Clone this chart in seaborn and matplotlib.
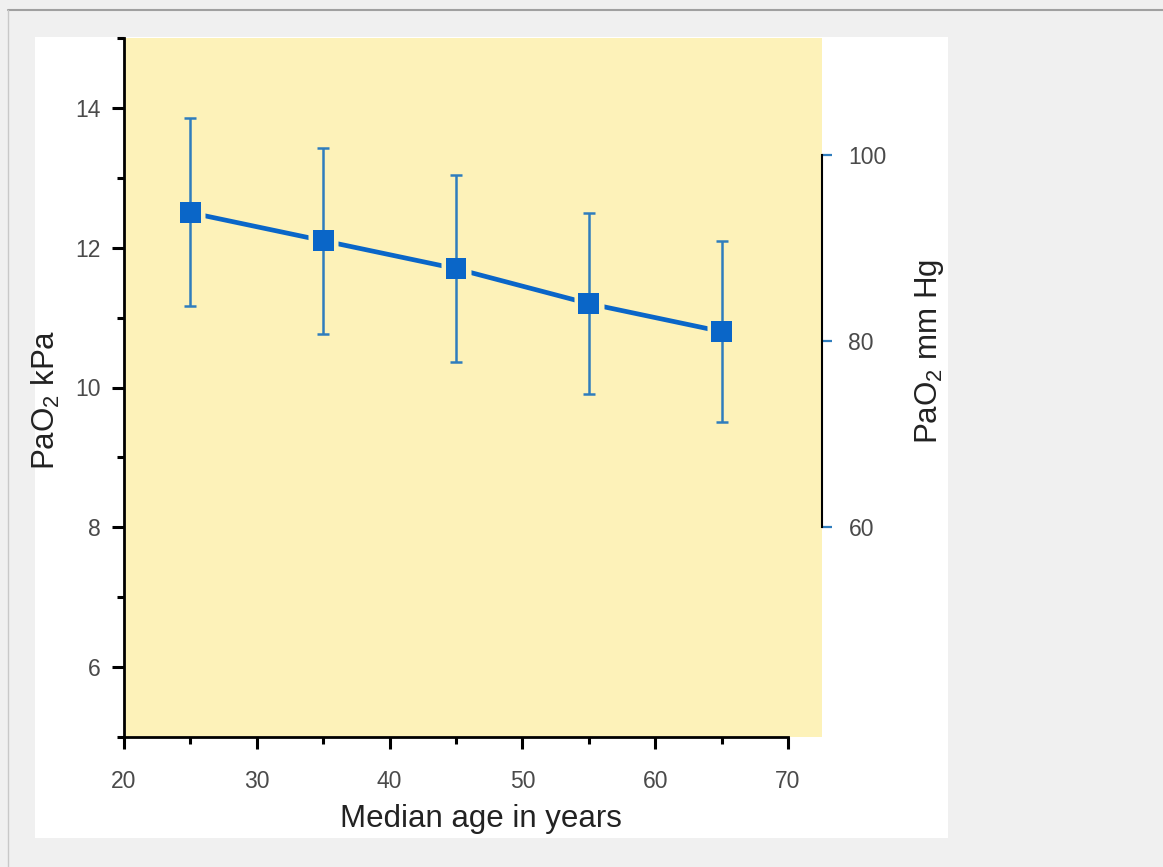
"""PaO2 versus median age, with a twin mm Hg axis on the right."""
import matplotlib
matplotlib.use("Agg")
import matplotlib.pyplot as plt
from matplotlib.lines import Line2D
from matplotlib.patches import Rectangle
from matplotlib.ticker import MultipleLocator
import numpy as np
import pandas as pd
import seaborn as sns

# ---- data ---------------------------------------------------------------- #
ages = [25, 35, 45, 55, 65]
pao2_mean = [12.5, 12.1, 11.7, 11.2, 10.8]
pao2_upper = [13.86, 13.43, 13.04, 12.50, 12.10]
pao2_lower = [11.17, 10.76, 10.37, 9.91, 9.51]
kpa_ticks = [6, 8, 10, 12, 14]
mmhg_ticks = [60, 80, 100]
age_ticks = [20, 30, 40, 50, 60, 70]

KPA_TO_MMHG = 7.50062

YELLOW = "#fdf2b9"
MARK_BLUE = "#0a66c8"
BAR_BLUE = "#2f7dbd"
TXT = "#4a4a4a"

sns.set_style("white")
plt.rcParams["font.family"] = ["Liberation Sans", "DejaVu Sans"]
plt.rcParams["mathtext.fontset"] = "custom"
plt.rcParams["mathtext.rm"] = "Liberation Sans"
plt.rcParams["mathtext.it"] = "Liberation Sans:italic"

df = pd.DataFrame({"age": ages, "pao2": pao2_mean,
                   "hi": pao2_upper, "lo": pao2_lower})
yerr = np.vstack([df["pao2"] - df["lo"], df["hi"] - df["pao2"]])

W, H = 1163, 867
fig = plt.figure(figsize=(W / 100, H / 100), dpi=100, facecolor="#f0f0f0")

# window-like frame: white panel and thin grey border
fig.patches.append(Rectangle((35 / W, (H - 838) / H), 913 / W, 801 / H,
                             transform=fig.transFigure, facecolor="white",
                             edgecolor="none", zorder=-10))
fig.lines.append(Line2D([8 / W, 1], [(H - 10) / H] * 2, transform=fig.transFigure,
                        color="#a0a0a0", lw=1.5, zorder=-9))
fig.lines.append(Line2D([8 / W] * 2, [0, (H - 10) / H], transform=fig.transFigure,
                        color="#c8c8c8", lw=1.0, zorder=-9))

ax = fig.add_axes([124 / W, (H - 737) / H, 698 / W, 699 / H])
ax.set_facecolor(YELLOW)

# connecting line, a yellow halo around the markers to open gaps, bars, markers
sns.lineplot(data=df, x="age", y="pao2", ax=ax, color=MARK_BLUE, lw=3.4,
             zorder=2)
ax.plot(df["age"], df["pao2"], ls="none", marker="s", ms=22,
        mfc=YELLOW, mec="none", zorder=3)
ax.errorbar(df["age"], df["pao2"], yerr=yerr, fmt="none", ecolor=BAR_BLUE,
            elinewidth=1.8, capsize=4.3, capthick=1.8, zorder=4)
sns.scatterplot(data=df, x="age", y="pao2", ax=ax, marker="s", s=15 ** 2,
                color=MARK_BLUE, edgecolor="none", linewidth=0, zorder=5)

ax.set_xlim(20, 72.56)
ax.set_ylim(5, 15)
ax.set_xticks(age_ticks)
ax.xaxis.set_minor_locator(MultipleLocator(5))
ax.set_yticks(kpa_ticks)
ax.set_yticks([5, 7, 9, 11, 13, 15], minor=True)

for side in ("top", "right"):
    ax.spines[side].set_visible(False)
for side in ("left", "bottom"):
    ax.spines[side].set_color("black")
    ax.spines[side].set_linewidth(2)
ax.spines["bottom"].set_bounds(20, 70)

ax.tick_params(axis="both", which="both", bottom=True, left=True,
               top=False, right=False)
ax.tick_params(axis="both", which="major", direction="out", length=8.5,
               width=2.2, color="black", labelsize=16.5, labelcolor=TXT)
ax.tick_params(axis="both", which="minor", direction="out", length=5,
               width=2.2, color="black")
ax.tick_params(axis="x", which="major", pad=15)
ax.tick_params(axis="y", which="major", pad=8)

ax.set_xlabel("Median age in years", fontsize=22.5, color="#222222")
ax.xaxis.set_label_coords(0.5115, -0.117)
ax.xaxis.label.set_verticalalignment("center")
ax.set_ylabel("PaO$_2$ kPa", fontsize=22.5, color="#222222")
ax.yaxis.set_label_coords(-0.112, 0.482)
ax.yaxis.label.set_verticalalignment("center")

# right-hand axis in mm Hg, same scale converted
ax2 = ax.twinx()
ax2.set_ylim(5 * KPA_TO_MMHG, 15 * KPA_TO_MMHG)
ax2.set_yticks(mmhg_ticks)
for side in ("top", "left", "bottom"):
    ax2.spines[side].set_visible(False)
ax2.spines["right"].set_bounds(60, 100)
ax2.spines["right"].set_color("black")
ax2.spines["right"].set_linewidth(1.5)
ax2.tick_params(axis="y", right=True, direction="out", length=7, width=1.6,
                color=BAR_BLUE, labelsize=16.5, labelcolor=TXT, pad=12)
ax2.set_ylabel("PaO$_2$ mm Hg", fontsize=22.5, color="#222222")
ax2.yaxis.set_label_coords(1.1547, 0.551)
ax2.yaxis.label.set_verticalalignment("center")

fig.savefig("out.png", dpi=100, facecolor=fig.get_facecolor())
